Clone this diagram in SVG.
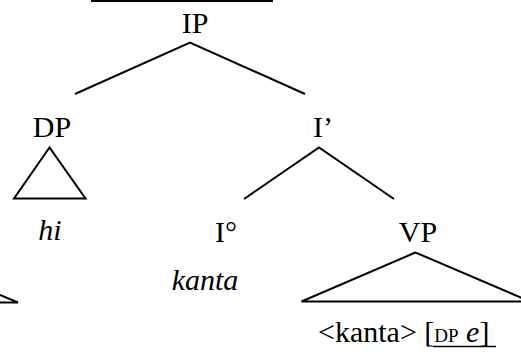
<svg xmlns="http://www.w3.org/2000/svg" width="521" height="352" viewBox="0 0 521 352">
<style>
text{font-family:'Liberation Serif','Times New Roman','DejaVu Serif',serif;font-size:30px;fill:#000;text-anchor:middle}
.i{font-style:italic}
.s{font-size:19px}
.e{fill:none;stroke:#000;stroke-width:2}
</style>
<rect width="521" height="352" fill="#fff"/>
<line x1="91" y1="1" x2="273" y2="1" stroke="#000" stroke-width="2"/>
<g id="connectors" class="e">
<polyline points="75,94 190,42.5 305,94"/>
<polyline points="244,199 319,147.5 394,199"/>
</g>
<g id="IP"><text x="195" y="33">IP</text></g>
<g id="DP"><text x="52" y="137">DP</text>
<polygon class="e" points="49.5,147.5 14,198.5 85.5,198.5"/></g>
<g id="hi"><text class="i" x="50" y="240">hi</text></g>
<g id="Ibar"><text x="323" y="137">I’</text></g>
<g id="I0"><text x="226" y="242">I°</text></g>
<g id="kanta"><text class="i" x="205" y="290">kanta</text></g>
<g id="VP"><text x="418" y="242">VP</text>
<polygon class="e" points="415.5,252.5 301.5,301.5 530,301.5"/></g>
<g id="trace"><text x="318" y="342" style="text-anchor:start">&lt;kanta&gt; [<tspan class="s">DP</tspan> <tspan class="i">e</tspan>]</text>
<line x1="433" y1="346.5" x2="496" y2="346.5" stroke="#000" stroke-width="1.5"/></g>
<g id="partial" class="e"><polyline points="0,295 18,302.5 0,302.5"/></g>
</svg>
